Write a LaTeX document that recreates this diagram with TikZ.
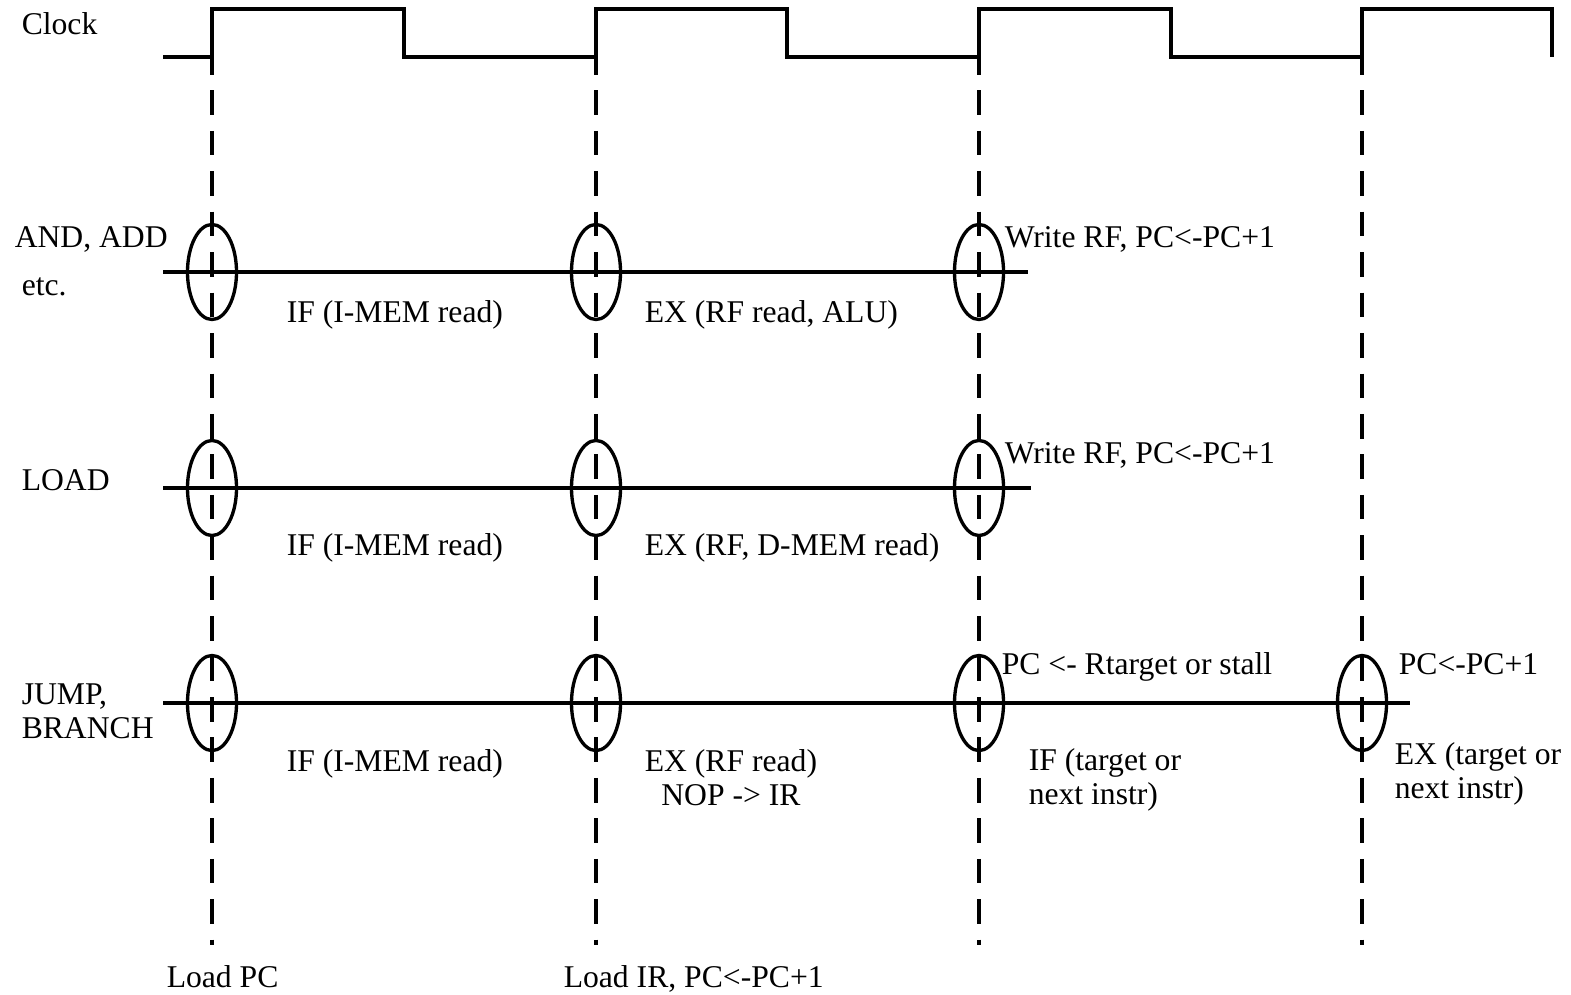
\documentclass[tikz,border=0pt]{standalone}
\usepackage{fontspec}
\setmainfont{Liberation Serif}
\usetikzlibrary{shapes.geometric}

\begin{document}
\begin{tikzpicture}[
    x=0.01cm,y=-0.01cm,line width=1pt,
    lbl/.style={inner sep=0pt,anchor=base west,align=left,font=\fontsize{9}{9.4}\selectfont},
    ring/.style={ellipse,draw,line width=.95pt,minimum width=.49cm,minimum height=.95cm,inner sep=0pt},
    tick/.style={line width=.9pt,dash pattern=on 7pt off 4.5pt,dash phase=2pt}
  ]
    \useasboundingbox (0,0) rectangle (1571,994);
    % clock
    \draw (163,57) -| (212,9) -| (404,57) -| (596,9) -| (787,57) -| (979,9) -| (1171,57) -| (1362,9) -| (1552,57);
    \foreach \x/\n in {212/a,596/b,979/c,1362/d} {
      \coordinate (t\n) at (\x,57); \coordinate (b\n) at (\x,945);
      \draw[tick] (t\n) -- (b\n);
    }
    \foreach \y/\r/\e in {272/1/1028,488/2/1031,703/3/1410} {
      \coordinate (s\r) at (163,\y); \coordinate (f\r) at (\e,\y);
      \draw (s\r) -- (f\r);
    }
    \foreach \r/\y in {1/272,2/488,3/703} \foreach \x/\n in {212/a,596/b,979/c} {\node[ring] (\n\r) at (\x,\y) {};}
    \node[ring] (d3) at (1362,703) {};
    % labels
    \node[lbl] (clk) at (20,35) {Clock};
    \node[lbl] (and) at (13,247) {AND, ADD}; \node[lbl] (etc) at (20,295) {etc.};
    \node[lbl] (load) at (20,490) {LOAD};
    \node[lbl] (jmp) at (20,738) {JUMP,\\BRANCH};
    \node[lbl] (if1) at (285,322) {IF (I-MEM read)}; \node[lbl] (ex1) at (643,322) {EX (RF read, ALU)};
    \node[lbl] (wr1) at (1003,247) {Write RF, PC<-PC+1};
    \node[lbl] (if2) at (285,555) {IF (I-MEM read)}; \node[lbl] (ex2) at (643,555) {EX (RF, D-MEM read)};
    \node[lbl] (wr2) at (1003,463) {Write RF, PC<-PC+1};
    \node[lbl] (if3) at (285,771) {IF (I-MEM read)};
    \node[lbl,align=center] (ex3) at (643,805) {EX (RF read)\\NOP -> IR};
    \node[lbl] (pcr) at (1000,674) {PC <- Rtarget or stall}; \node[lbl] (pci) at (1397,674) {PC<-PC+1};
    \node[lbl] (ift) at (1027,804) {IF (target or\\next instr)};
    \node[lbl] (ext) at (1393,798) {EX (target or\\next instr)};
    \node[lbl] (ldpc) at (165,987) {Load PC}; \node[lbl] (ldir) at (562,987) {Load IR, PC<-PC+1};
  \end{tikzpicture}
\end{document}
